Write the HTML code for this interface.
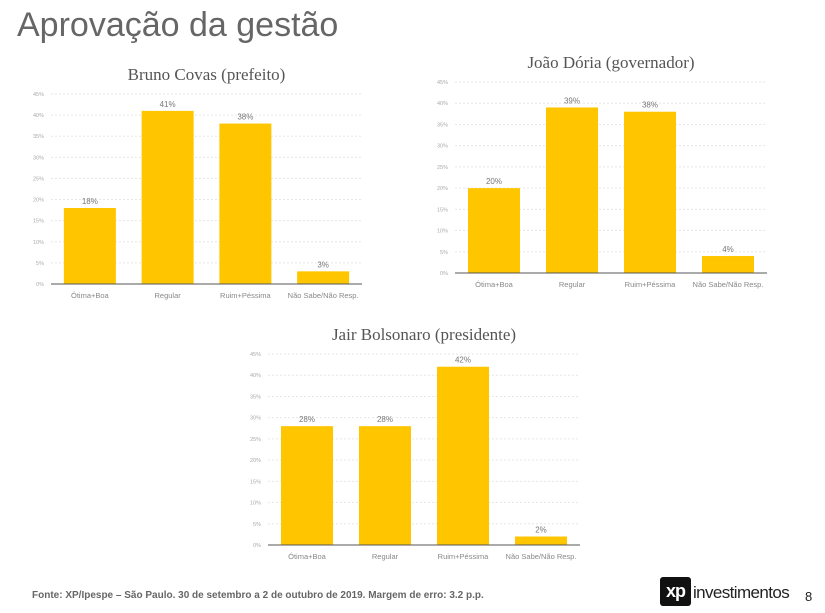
<!DOCTYPE html>
<html><head><meta charset="utf-8"><style>
body{margin:0;width:825px;height:613px;background:#fff;overflow:hidden;position:relative;font-family:"Liberation Sans",sans-serif}
.t{position:absolute;color:#555}
</style></head><body>
<div class="t" style="left:17px;top:6px;font-size:34px;color:#666">Aprovação da gestão</div>
<svg id="s" width="825" height="613" style="position:absolute;left:0;top:0"></svg>
<div class="t" style="left:32px;top:590px;font-size:10px;color:#666;font-weight:bold">Fonte: XP/Ipespe – São Paulo. 30 de setembro a 2 de outubro de 2019. Margem de erro: 3.2 p.p.</div>
<div style="position:absolute;left:660px;top:577px;width:31px;height:29px;background:#111;border-radius:3px;color:#fff;font-weight:bold;font-size:18px;line-height:29px;text-align:center;letter-spacing:-1px">xp</div>
<div class="t" style="left:693px;top:583px;font-size:17px;color:#222;letter-spacing:-0.6px">investimentos</div>
<div class="t" style="left:805px;top:589px;font-size:13px;color:#222">8</div>
<script>
const categories=["Ótima+Boa","Regular","Ruim+Péssima","Não Sabe/Não Resp."];
const titles=["Bruno Covas (prefeito)","João Dória (governador)","Jair Bolsonaro (presidente)"];
const covasValues=[18,41,38,3];
const doriaValues=[20,39,38,4];
const bolsonaroValues=[28,28,42,2];
const tickLabels=["0%","5%","10%","15%","20%","25%","30%","35%","40%","45%"];
const tickValues=[0,5,10,15,20,25,30,35,40,45];
const NS="http://www.w3.org/2000/svg",svg=document.getElementById('s');
function mk(t,a,p){const e=document.createElementNS(NS,t);for(const k in a)e.setAttribute(k,a[k]);(p||svg).appendChild(e);return e;}
function chart(vals,title,x0,x1,yb,yt,slug){
 const g=mk('g',{});
 
 
 const y=v=>yb-(v/45)*(yb-yt);
 const bw=(x1-x0)/categories.length;
 const tt=mk('text',{x:(x0+x1)/2,y:yt-14,'text-anchor':'middle','font-size':17,fill:'#555','font-family':'Liberation Serif,serif'},g);tt.textContent=title;
 
 
 tickValues.forEach((v,i)=>{
  if(v>0){const l=mk('line',{x1:x0,x2:x1,y1:y(v),y2:y(v),stroke:'#e6e6e6','stroke-dasharray':'2,2'},g);
  
  }
  const t=mk('text',{x:x0-7,y:y(v)+2,'text-anchor':'end','font-size':5.5,fill:'#aaa'},g);t.textContent=tickLabels[i];
  
  
 });
 vals.forEach((v,i)=>{
  const cx=x0+bw*(i+0.5);
  const r=mk('rect',{x:cx-26,y:y(v),width:52,height:yb-y(v),fill:'#ffc600'},g);
  
  
  const vl=mk('text',{x:cx,y:y(v)-4,'text-anchor':'middle','font-size':8,fill:'#777'},g);vl.textContent=Math.round(v)+'%';
  
  
  const cl=mk('text',{x:cx,y:yb+14,'text-anchor':'middle','font-size':7.5,fill:'#888'},g);cl.textContent=categories[i];
  
  
 });
 const ax=mk('line',{x1:x0,x2:x1,y1:yb,y2:yb,stroke:'#555'},g);
 
 
}
chart(covasValues,titles[0],51,362,284,94,'covas');
chart(doriaValues,titles[1],455,767,273,82,'doria');
chart(bolsonaroValues,titles[2],268,580,545,354,'bolsonaro');
</script>
</body></html>
